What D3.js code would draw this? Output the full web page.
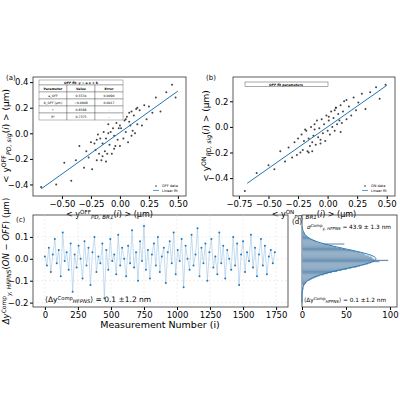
<!DOCTYPE html>
<html><head><meta charset="utf-8">
<script src="https://cdn.jsdelivr.net/npm/d3@7"></script>
<style>body{margin:0;background:#fff}text{font-family:"DejaVu Sans",sans-serif}</style>
</head><body><svg id="c" width="400" height="400"></svg>
<script>
// panel (a): OFF data
var xOff = [-0.68,-0.55,-0.48,-0.42,-0.38,-0.35,-0.31,-0.29,-0.27,-0.25,-0.24,-0.22,-0.21,-0.2,-0.19,-0.18,-0.17,-0.16,-0.15,-0.14,-0.13,-0.12,-0.11,-0.1,-0.09,-0.08,-0.07,-0.06,-0.05,-0.04,-0.03,-0.02,-0.01,0,0.01,0.02,0.03,0.04,0.05,0.06,0.07,0.08,0.09,0.1,0.11,0.12,0.13,0.14,0.15,0.17,0.19,0.21,0.23,0.25,0.28,0.31,0.35,0.4,0.45,0.48,-0.15,-0.1,-0.05,0,0.05,0.1,-0.2,0.15,-0.12,0.08];
var yOff = [-0.42,-0.40,-0.23,-0.37,-0.21,-0.10,-0.27,-0.14,-0.19,-0.07,-0.28,-0.08,-0.13,-0.21,-0.01,-0.16,-0.04,-0.21,-0.08,0.01,-0.14,-0.04,-0.16,0.07,-0.09,0.01,-0.16,0.04,-0.02,-0.10,0.08,-0.05,0.04,-0.10,0.04,0.13,-0.04,0.10,0.01,0.13,-0.07,0.09,0.06,0.17,0.02,0.14,0.00,0.19,0.07,0.18,0.06,0.22,0.11,0.21,0.16,0.28,0.17,0.32,0.38,0.28,-0.18,0.00,-0.12,0.06,0.11,-0.02,-0.05,0.20,-0.22,0.16];
// panel (b): ON data
var xOn = [-0.70,-0.60,-0.50,-0.45,-0.40,-0.36,-0.33,-0.30,-0.28,-0.26,-0.25,-0.23,-0.22,-0.21,-0.2,-0.18,-0.17,-0.16,-0.15,-0.14,-0.13,-0.12,-0.11,-0.1,-0.09,-0.08,-0.07,-0.06,-0.05,-0.04,-0.03,-0.02,-0.01,0,0.01,0.02,0.03,0.04,0.05,0.06,0.07,0.08,0.09,0.1,0.11,0.12,0.13,0.14,0.16,0.18,0.2,0.22,0.24,0.26,0.29,0.32,0.36,0.41,0.44,0.49,-0.16,-0.11,-0.06,0.01,0.06,0.11,-0.19,0.16,-0.13,0.07];
var yOn = [-0.50,-0.36,-0.30,-0.33,-0.19,-0.27,-0.16,-0.24,-0.12,-0.22,-0.09,-0.20,-0.06,-0.18,-0.11,-0.03,-0.19,-0.09,-0.15,0.00,-0.12,-0.07,-0.02,-0.14,0.05,-0.08,-0.01,-0.13,0.06,-0.05,0.02,-0.11,0.09,-0.03,0.05,-0.06,0.12,0.00,0.07,-0.03,0.15,0.02,0.10,0.05,0.17,0.03,0.12,0.20,0.06,0.16,0.09,0.23,0.13,0.19,0.26,0.14,0.27,0.31,0.22,0.33,-0.20,0.02,-0.10,0.08,0.13,-0.04,-0.02,0.21,-0.19,0.15];
// linear fits (slope, intercept)
var fitOff = [0.648, 0.006];
var fitOn = [0.648, 0.0];
var fitRangeOff = [-0.68, 0.5], fitRangeOn = [-0.68, 0.5];
// panel (c): difference vs measurement number (every 15th)
var measStep = 15;
var dy = [0.01,-0.03,0.05,-0.06,0.02,0.09,-0.02,0.04,-0.08,0.12,
-0.01,0.03,-0.05,0.07,-0.15,0.02,-0.04,0.06,0.00,-0.09,
0.08,-0.03,0.05,-0.12,0.03,0.10,-0.06,0.01,-0.02,0.07,
-0.18,0.04,-0.05,0.09,-0.01,0.02,-0.07,0.11,-0.03,0.05,
0.00,-0.08,0.06,-0.02,0.13,-0.04,0.03,-0.10,0.08,-0.01,
0.15,-0.05,0.04,-0.09,0.02,0.07,-0.03,0.10,-0.06,0.01,
0.05,-0.11,0.03,0.08,-0.02,0.12,-0.07,0.04,-0.01,0.09,
-0.13,0.06,0.00,-0.05,0.11,-0.03,0.02,0.14,-0.08,0.05,
-0.02,0.07,-0.10,0.03,0.09,-0.04,0.01,-0.07,0.12,-0.02,
0.06,-0.09,0.04,0.00,-0.05,0.10,-0.03,0.07,-0.12,0.02,
0.08,-0.06,0.03,-0.01,0.11,-0.04,0.05,-0.08,0.02,0.09,
-0.03,0.06,-0.07,0.01,0.04,-0.02,0.03];
// panel (d): histogram, bins of 0.005 from -0.2
var binStart = -0.2, binWidth = 0.005;
var counts = [0,0,0,0,1,0,0,1,0,1,1,1,2,1,2,
2,3,4,5,6,9,11,14,17,20,25,29,34,40,45,
51,56,62,66,70,75,78,88,98,82,80,79,76,72,70,
66,61,56,50,45,39,34,29,48,20,17,14,11,9,7,
5,4,3,3,2,1,1,1,0,1];
var gauss = {mu: 0.0001, sigma: 0.0439, amp: 84};

var svg = d3.select('#c');
var blue = '#1f77b4';

function mathText(g, x, y, parts, size, opts) {
    opts = opts || {};
    var t = g.append('text').attr('x', x).attr('y', y).attr('font-size', size)
        .attr('text-anchor', opts.anchor || 'start');
    if (opts.rotate) t.attr('transform', `rotate(-90,${x},${y})`);
    parts.forEach(p => {
        var s = t.append('tspan').text(p[0]);
        if (p[1] === 'sup') s.attr('font-size', size * 0.7).attr('baseline-shift', '45%');
        if (p[1] === 'sub') s.attr('font-size', size * 0.7).attr('baseline-shift', '-25%').attr('font-style', 'italic');
        if (p[1] === 'i') s.attr('font-style', 'italic');
    });
    return t;
}

function frame(x, y, xt, yt, fmtX, fmtY) {
    var g = svg.append('g');
    g.append('g').attr('transform', `translate(0,${y.range()[0]})`)
        .call(d3.axisBottom(x).tickValues(xt).tickFormat(fmtX).tickSize(3).tickPadding(1.5));
    g.append('g').attr('transform', `translate(${x.range()[0]},0)`)
        .call(d3.axisLeft(y).tickValues(yt).tickFormat(fmtY).tickSize(3).tickPadding(1.5));
    g.selectAll('.domain').remove();
    g.selectAll('.tick text').attr('font-size', 8.5).attr('font-family', 'DejaVu Sans');
    g.append('rect').attr('x', x.range()[0]).attr('y', y.range()[1])
        .attr('width', x.range()[1] - x.range()[0]).attr('height', y.range()[0] - y.range()[1])
        .attr('fill', 'none').attr('stroke', '#333').attr('stroke-width', 0.8);
    return g;
}
var f2 = d3.format('.2f'), f1 = d3.format('.1f');
var minus = f => (d => f(d).replace('-', '\u2212'));

function scatterPanel(xs, ys, fit, fr, xDom, yDom, xRange, xt, yt, tag, lab, legendName) {
    var x = d3.scaleLinear().domain(xDom).range(xRange);
    var y = d3.scaleLinear().domain(yDom).range([196, 77]);
    var g = frame(x, y, xt, yt, minus(f2), minus(f1));
    g.append('g').selectAll('circle').data(xs).join('circle')
        .attr('cx', d => x(d)).attr('cy', (d, i) => y(ys[i])).attr('r', 1)
        .attr('fill', '#222').attr('opacity', 0.85);
    g.append('line').attr('x1', x(fr[0])).attr('y1', y(fit[0] * fr[0] + fit[1]))
        .attr('x2', x(fr[1])).attr('y2', y(fit[0] * fr[1] + fit[1]))
        .attr('stroke', blue).attr('stroke-width', 1);
    var lx = xRange[1] - 24, ly = 187;
    g.append('circle').attr('cx', lx - 6).attr('cy', ly - 1).attr('r', 0.8).attr('fill', '#333');
    g.append('text').attr('x', lx).attr('y', ly).attr('font-size', 3.5).text(legendName + ' data');
    g.append('line').attr('x1', lx - 9).attr('x2', lx - 3).attr('y1', ly + 3.5).attr('y2', ly + 3.5).attr('stroke', blue).attr('stroke-width', 0.7);
    g.append('text').attr('x', lx).attr('y', ly + 4.5).attr('font-size', 3.5).text('Linear fit');
    svg.append('text').attr('x', xRange[0] - 27).attr('y', 80).attr('font-size', 7).text(tag);
    var cx = (xRange[0] + xRange[1]) / 2;
    mathText(svg, cx, 217, [['< y', ''], [lab, 'sup'], ['PD, BR1', 'sub'], ['(', ''], ['i', 'i'], [') >  (\u03bcm)', '']], 8, {anchor: 'middle'});
    mathText(svg, xRange[0] - 24, 136, [['< y', ''], [lab, 'sup'], ['PD, sig', 'sub'], ['(', ''], ['i', 'i'], [') >  (\u03bcm)', '']], 9, {anchor: 'middle', rotate: true});
    return g;
}

var gA = scatterPanel(xOff, yOff, fitOff, fitRangeOff, [-0.75, 0.57], [-0.49, 0.44], [33, 186],
    [-0.5, -0.25, 0, 0.25, 0.5], [-0.4, -0.2, 0, 0.2, 0.4], '(a)', 'OFF', 'OFF');
var gB = scatterPanel(xOn, yOn, fitOn, fitRangeOn, [-0.80, 0.57], [-0.54, 0.39], [233, 395],
    [-0.75, -0.5, -0.25, 0, 0.25, 0.5], [-0.4, -0.2, 0, 0.2], '(b)', 'ON', 'ON');

// table in (a)
var tab = [['Parameter', 'Value', 'Error'], ['a_OFF', '0.5534', '0.0090'], ['b_OFF (\u03bcm)', '\u22120.0008', '0.0017'], ['r', '0.8588', '-'], ['R\u00b2', '0.7375', '-']];
var tx = 39, ty = 80, rh = 7;
var tg = svg.append('g');
tg.append('rect').attr('x', tx).attr('y', ty).attr('width', 84).attr('height', 5).attr('fill', '#fff').attr('stroke', '#555').attr('stroke-width', 0.4);
tg.append('text').attr('x', tx + 42).attr('y', ty + 3.7).attr('font-size', 3.2).attr('text-anchor', 'middle').attr('font-weight', 'bold').text('OFF fit: y = a x + b');
tab.forEach((row, r) => row.forEach((c, k) => {
    tg.append('rect').attr('x', tx + k * 28).attr('y', ty + 5 + r * rh).attr('width', 28).attr('height', rh)
        .attr('fill', '#fff').attr('stroke', '#555').attr('stroke-width', 0.4);
    tg.append('text').attr('x', tx + k * 28 + 14).attr('y', ty + 5 + r * rh + 4.8).attr('font-size', 3.2)
        .attr('text-anchor', 'middle').attr('font-weight', r === 0 ? 'bold' : 'normal').text(c);
}));
svg.append('rect').attr('x', 245).attr('y', 82).attr('width', 83).attr('height', 4.5).attr('fill', '#fff').attr('stroke', '#555').attr('stroke-width', 0.5);
svg.append('text').attr('x', 286).attr('y', 85.5).attr('font-size', 3.2).attr('text-anchor', 'middle').attr('font-weight', 'bold').text('OFF fit parameters');

// panel (c)
var xC = d3.scaleLinear().domain([-90, 1840]).range([33, 288]);
var yC = d3.scaleLinear().domain([-0.22, 0.2]).range([307, 215]);
var gC = frame(xC, yC, d3.range(0, 1751, 250), [-0.2, -0.1, 0, 0.1], d3.format('d'), minus(f1));
gC.append('g').selectAll('line').data(d3.range(0, 1751, 250)).join('line')
    .attr('x1', d => xC(d)).attr('x2', d => xC(d)).attr('y1', 215).attr('y2', 307)
    .attr('stroke', '#ddd').attr('stroke-dasharray', '2,2').attr('stroke-width', 0.5);
gC.append('g').selectAll('line').data([-0.2, -0.1, 0, 0.1]).join('line')
    .attr('x1', 33).attr('x2', 288).attr('y1', d => yC(d)).attr('y2', d => yC(d))
    .attr('stroke', '#ddd').attr('stroke-dasharray', '2,2').attr('stroke-width', 0.5);
gC.append('path').datum(dy).attr('fill', 'none').attr('stroke', '#9ec5e6').attr('stroke-width', 0.6)
    .attr('d', d3.line().x((d, i) => xC(i * measStep)).y(d => yC(d)));
gC.append('g').selectAll('circle').data(dy).join('circle')
    .attr('cx', (d, i) => xC(i * measStep)).attr('cy', d => yC(d)).attr('r', 1).attr('fill', blue);
svg.append('text').attr('x', 16).attr('y', 222).attr('font-size', 7).text('(c)');
mathText(svg, 45, 302, [['\u27e8\u0394y', ''], ['Comp', 'sup'], ['HFPNS', 'sub'], ['\u27e9 = 0.1  \u00b11.2 nm', '']], 7.5);
svg.append('text').attr('x', 160).attr('y', 328).attr('font-size', 9.5).attr('text-anchor', 'middle').text('Measurement Number (i)');
mathText(svg, 9, 261, [['\u0394y', 'i'], ['Comp', 'sup'], ['y, HFPNS', 'sub'], ['(', ''], ['ON \u2212 OFF', 'i'], [') (\u03bcm)', '']], 8.5, {anchor: 'middle', rotate: true});

// panel (d)
var xD = d3.scaleLinear().domain([0, 108]).range([302, 397]);
var gD = frame(xD, yC, [0, 50, 100], [], d3.format('d'), d => '');
gD.append('g').selectAll('rect').data(counts).join('rect')
    .attr('x', 302).attr('y', (d, i) => yC(binStart + (i + 1) * binWidth))
    .attr('width', d => xD(d) - 302).attr('height', yC(0) - yC(binWidth))
    .attr('fill', '#4f7ea8').attr('stroke', '#c8d3dc').attr('stroke-width', 0.3);
var gy = d3.range(-0.2, 0.15, 0.002);
gD.append('path').datum(gy).attr('fill', 'none').attr('stroke', blue).attr('stroke-width', 1)
    .attr('d', d3.line().x(v => xD(gauss.amp * Math.exp(-((v - gauss.mu) ** 2) / (2 * gauss.sigma ** 2)))).y(v => yC(v)));
svg.append('text').attr('x', 292).attr('y', 224).attr('font-size', 7).text('(d)');
mathText(svg, 307, 229, [['\u03c3', 'i'], ['Comp', 'sup'], ['y, HFPNS', 'sub'], [' = 43.9 \u00b1 1.3 nm', '']], 5.8);
mathText(svg, 304, 302, [['\u27e8\u0394y', ''], ['Comp', 'sup'], ['HFPNS', 'sub'], ['\u27e9 = 0.1 \u00b11.2 nm', '']], 5.8);
</script></body></html>
